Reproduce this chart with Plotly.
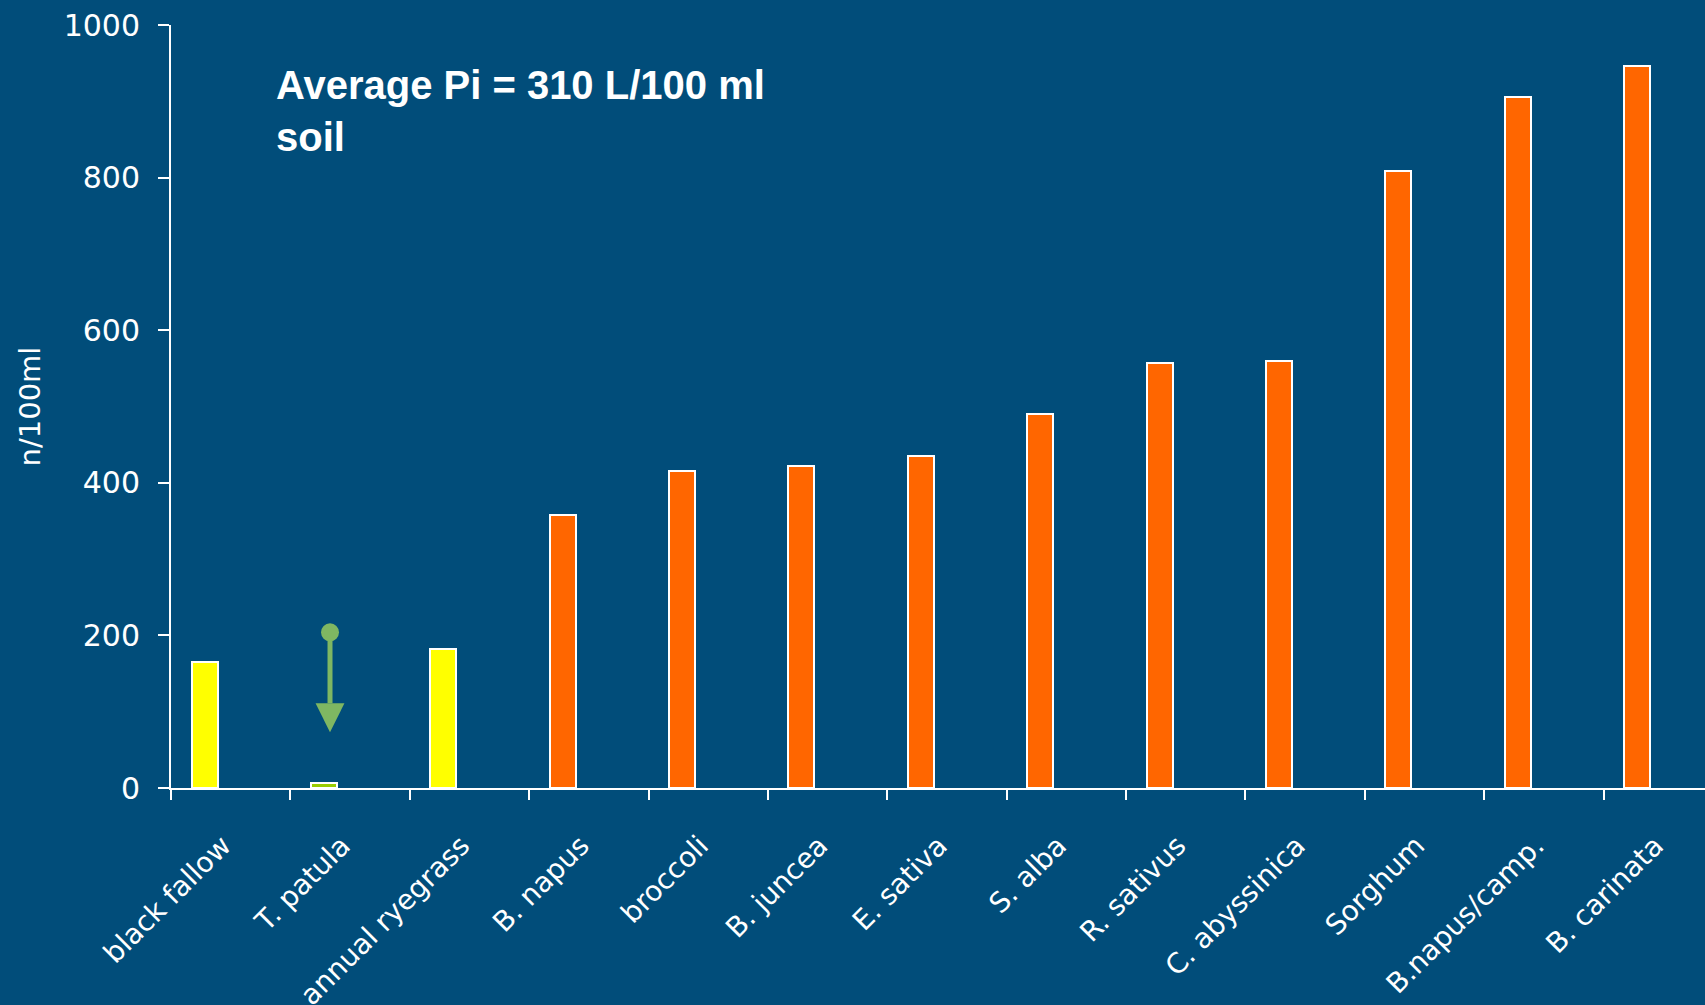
import plotly.graph_objects as go

# Nematode counts after each cover crop (n/100 ml soil)
crops = [
    "black fallow", "T. patula", "annual ryegrass", "B. napus", "broccoli",
    "B. juncea", "E. sativa", "S. alba", "R. sativus", "C. abyssinica",
    "Sorghum", "B.napus/camp.", "B. carinata",
]
counts = [165, 6, 182, 358, 416, 422, 435, 490, 557, 560, 809, 905, 946]
groups = ["control", "trap", "control", "host", "host", "host", "host",
          "host", "host", "host", "host", "host", "host"]

y_ticks = [0, 200, 400, 600, 800, 1000]
note_text = "Average Pi = 310 L/100 ml<br>soil"

BG = "#014D7A"
WHITE = "#FFFFFF"
GROUP_COLORS = {"control": "#FFFF00", "trap": "#99CC00", "host": "#FF6600"}
ARROW_COLOR = "#7FB762"

# Arrow marking the drop under T. patula (data units)
ARROW_X = 0.832
ARROW_TOP = 204
ARROW_HEAD_BASE = 111
ARROW_TIP = 73
ARROW_HALF_W = 0.121

positions = list(range(len(crops)))
bar_colors = [GROUP_COLORS[g] for g in groups]

fig = go.Figure()
fig.add_trace(go.Bar(
    x=positions,
    y=counts,
    width=0.218,
    offset=-0.328,
    marker=dict(color=bar_colors, line=dict(color=WHITE, width=2)),
    showlegend=False,
    hoverinfo="skip",
))

# Arrow: stem, head and round tail
fig.add_shape(type="line", xref="x", yref="y",
              x0=ARROW_X, x1=ARROW_X, y0=ARROW_TOP, y1=ARROW_HEAD_BASE,
              line=dict(color=ARROW_COLOR, width=5))
fig.add_shape(type="path", xref="x", yref="y",
              path=(f"M {ARROW_X - ARROW_HALF_W},{ARROW_HEAD_BASE} "
                    f"L {ARROW_X + ARROW_HALF_W},{ARROW_HEAD_BASE} "
                    f"L {ARROW_X},{ARROW_TIP} Z"),
              fillcolor=ARROW_COLOR, line=dict(width=0))
fig.add_shape(type="circle", xref="x", yref="y",
              xsizemode="pixel", ysizemode="pixel",
              xanchor=ARROW_X, yanchor=ARROW_TOP,
              x0=-9, x1=9, y0=-9, y1=9,
              fillcolor=ARROW_COLOR, line=dict(width=0))

fig.add_annotation(
    xref="paper", yref="paper", x=0.067, y=0.953,
    xanchor="left", yanchor="top", align="left",
    text=f"<b>{note_text}</b>", showarrow=False,
    font=dict(family="Liberation Sans, Arial, sans-serif", size=40, color=WHITE),
)

y_tick_font = dict(family="DejaVu Sans, Verdana, sans-serif", size=30, color=WHITE)
x_tick_font = dict(family="DejaVu Sans, Verdana, sans-serif", size=28, color=WHITE)

fig.update_layout(
    width=1705, height=1005,
    margin=dict(l=171, r=0, t=25, b=217, autoexpand=False),
    paper_bgcolor=BG, plot_bgcolor=BG,
    bargap=0,
    xaxis=dict(
        type="linear",
        range=[-0.5, 12.35],
        automargin=False,
        tickmode="array", tickvals=positions, ticktext=crops,
        tickangle=-45, ticks="",
        ticklabelstandoff=28, ticklabelshift=-8,
        tickfont=x_tick_font,
        showline=True, linecolor=WHITE, linewidth=2,
        showgrid=False, zeroline=False,
        minor=dict(tick0=-0.5, dtick=1, ticks="outside", ticklen=10,
                   tickwidth=2, tickcolor=WHITE, showgrid=False),
    ),
    yaxis=dict(
        range=[0, 1000],
        automargin=False,
        tickmode="array", tickvals=y_ticks,
        ticks="outside", ticklen=11, tickwidth=2, tickcolor=WHITE,
        ticklabelstandoff=12,
        tickfont=y_tick_font,
        showline=True, linecolor=WHITE, linewidth=2,
        showgrid=False, zeroline=False,
        title=dict(text="n/100ml", standoff=14,
                   font=dict(family="DejaVu Sans, Verdana, sans-serif",
                             size=29, color=WHITE)),
    ),
)

fig.write_html("out.html")
